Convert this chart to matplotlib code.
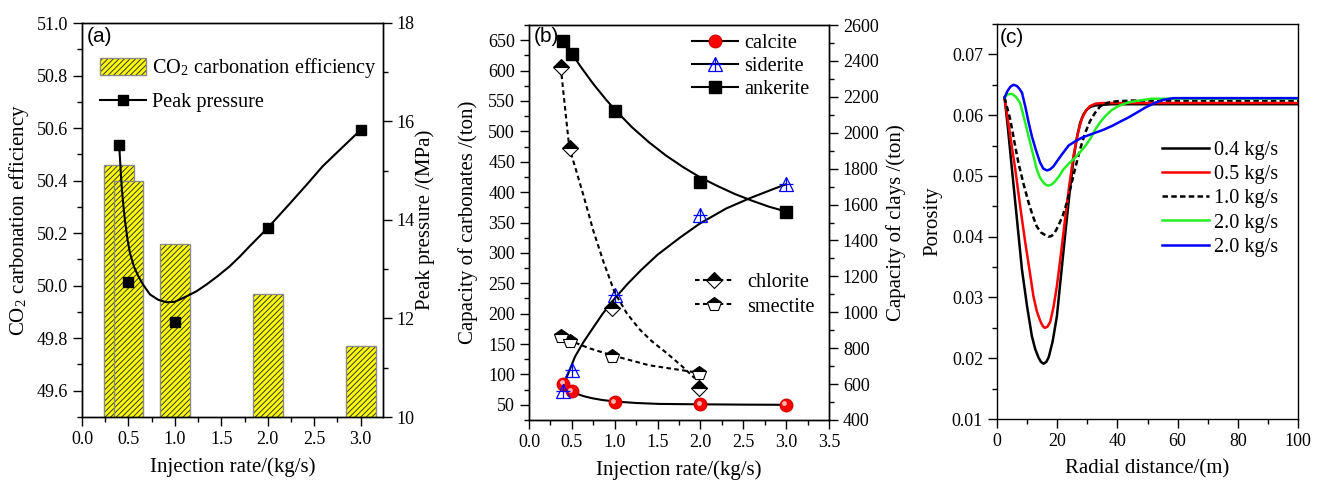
import matplotlib
matplotlib.use('Agg')
import matplotlib.pyplot as plt
import matplotlib.transforms as mtransforms
from matplotlib.lines import Line2D
from matplotlib.legend_handler import HandlerTuple
from matplotlib.ticker import MultipleLocator

# ---------------- data ----------------
# (a) carbonation efficiency bars and peak pressure
rate_a = [0.4, 0.5, 1.0, 2.0, 3.0]
eff = [50.46, 50.40, 50.16, 49.97, 49.77]
peak_p = [15.53, 12.74, 11.93, 13.84, 15.83]
# fitted pressure curve
fit_p_x = [0.40, 0.415, 0.427, 0.445, 0.462, 0.49, 0.516, 0.56, 0.606, 0.66, 0.731, 0.82,
           0.91, 1.0, 1.125, 1.23, 1.34, 1.46, 1.59, 1.7, 1.806, 2.0, 2.24, 2.42, 2.59, 2.8, 3.0]
fit_p_y = [15.53, 15.05, 14.68, 14.3, 14.0, 13.6, 13.33, 13.05, 12.86, 12.68, 12.49, 12.38,
           12.33, 12.34, 12.45, 12.55, 12.69, 12.86, 13.06, 13.26, 13.47, 13.84, 14.34, 14.72,
           15.09, 15.47, 15.83]

# (b) carbonates (left axis) and clays (right axis)
rate_b = [0.4, 0.5, 1.0, 2.0, 3.0]
calcite = [85, 72, 54, 51, 50]
siderite = [72, 108, 230, 362, 413]
ankerite = [648, 628, 534, 416, 367]
rate_clay = [0.37, 0.48, 0.97, 1.98]
chlorite = [2368, 1917, 1025, 580]
smectite = [868, 842, 758, 663]

calcite_fit_x = [0.40, 0.45, 0.536, 0.63, 0.73, 0.85, 1.0, 1.25, 1.51, 2.0, 2.5, 3.0]
calcite_fit_y = [76, 73, 69.5, 64.5, 61, 58, 55.5, 53, 51.5, 50.8, 50.3, 50]
siderite_fit_x = [0.39, 0.45, 0.536, 0.63, 0.73, 0.86, 1.0, 1.15, 1.31, 1.5, 1.76, 1.99,
                  2.3, 2.576, 2.85, 3.0]
siderite_fit_y = [74, 99, 129, 152, 173, 200, 225, 249, 272, 297, 325, 348, 373, 390, 405, 413]
ankerite_fit_x = [0.5, 0.6, 0.75, 0.9, 1.0, 1.2, 1.4, 1.6, 1.8, 2.0, 2.2, 2.4, 2.6, 2.8, 3.0]
ankerite_fit_y = [628, 607, 578, 552, 536, 507, 482, 460, 441, 424, 410, 397, 386, 376, 368]
chlorite_fit_x = [0.37, 0.42, 0.47, 0.55, 0.633, 0.75, 0.866, 1.0, 1.14, 1.29, 1.43, 1.6,
                  1.78, 1.935]
chlorite_fit_y = [2368, 2140, 1917, 1790, 1655, 1455, 1285, 1110, 995, 905, 840, 775, 702, 632]
smectite_fit_x = [0.37, 0.48, 0.7, 0.97, 1.4, 1.98]
smectite_fit_y = [868, 842, 800, 760, 705, 663]

# (c) porosity profiles
dist_04 = [2.5, 3.5, 4.97, 6.5, 8.29, 10, 11.6, 12.7, 13.8, 14.6, 15.45, 16.4, 17.2, 18.5,
           19.9, 21.2, 22.6, 24.0, 25.4, 26.5, 27.6, 28.7, 29.8, 31.2, 32.6, 35, 38.1, 100]
por_04 = [0.0629, 0.0585, 0.0511, 0.0435, 0.0346, 0.0285, 0.0236, 0.0215, 0.0201, 0.0194,
          0.0191, 0.0194, 0.0202, 0.0228, 0.0269, 0.0333, 0.0401, 0.0467, 0.0527, 0.0562,
          0.0587, 0.0601, 0.0609, 0.0614, 0.0616, 0.0617, 0.0618, 0.0618]
dist_05 = [2.5, 4.0, 6.07, 7.7, 9.4, 10.8, 12.1, 13.2, 14.3, 15.2, 15.9, 16.8, 17.7, 18.8,
           19.9, 21.2, 22.6, 24.0, 25.4, 26.8, 28.1, 29.5, 30.9, 32.8, 34.8, 100]
por_05 = [0.0629, 0.0579, 0.0511, 0.0450, 0.0390, 0.0345, 0.0302, 0.0278, 0.0262, 0.0253,
          0.0250, 0.0252, 0.0260, 0.0285, 0.0319, 0.0370, 0.0428, 0.0484, 0.0533, 0.0569,
          0.0593, 0.0607, 0.0615, 0.0619, 0.0620, 0.0620]
dist_10 = [2.5, 3.4, 4.4, 5.7, 7.1, 8.8, 10.5, 11.9, 13.2, 14.6, 15.9, 17.0, 18.1, 19.2,
           20.3, 21.8, 23.2, 24.6, 25.9, 27.6, 29.3, 30.9, 32.6, 34.2, 35.9, 38.0, 40.3, 45, 100]
por_10 = [0.0629, 0.0612, 0.0593, 0.0558, 0.0522, 0.0487, 0.0456, 0.0434, 0.0417, 0.0407,
          0.0403, 0.0400, 0.0401, 0.0407, 0.0417, 0.0434, 0.0456, 0.0484, 0.0511, 0.0544,
          0.0571, 0.0590, 0.0604, 0.0614, 0.0619, 0.0622, 0.0623, 0.0624, 0.0624]
dist_20g = [2.5, 3.5, 4.97, 6.3, 7.7, 9.0, 10.5, 11.9, 13.2, 14.3, 15.45, 16.3, 17.1, 18.2,
            19.3, 20.7, 22.1, 24.0, 25.95, 27.6, 29.3, 31.0, 32.6, 34.2, 35.9, 38.0, 40.3,
            43, 45.8, 48.5, 51.3, 56, 100]
por_20g = [0.0629, 0.0634, 0.0635, 0.0630, 0.0620, 0.0595, 0.0565, 0.0537, 0.0511, 0.0497,
           0.0489, 0.0485, 0.0484, 0.0486, 0.0491, 0.0500, 0.0511, 0.0521, 0.0530, 0.0539,
           0.0549, 0.0561, 0.0576, 0.0588, 0.0598, 0.0608, 0.0615, 0.0620, 0.0623, 0.0625,
           0.0627, 0.0627, 0.0627]
dist_20b = [2.5, 3.5, 4.5, 5.5, 6.6, 7.5, 8.3, 9.5, 10.5, 11.6, 12.9, 14.3, 15.4, 16.6, 17.7,
            18.8, 20.2, 21.5, 23.8, 26, 28.2, 30.4, 32.6, 35.4, 38.1, 40.8, 43.6, 46.4, 49.1,
            52.4, 55, 58.6, 100]
por_20b = [0.0629, 0.0640, 0.0647, 0.0650, 0.0648, 0.0643, 0.0637, 0.0612, 0.0588, 0.0565,
           0.0543, 0.0522, 0.0512, 0.0509, 0.0511, 0.0516, 0.0526, 0.0535, 0.0550, 0.0557,
           0.0563, 0.0567, 0.0571, 0.0576, 0.0582, 0.0589, 0.0596, 0.0604, 0.0612, 0.0620,
           0.0625, 0.0628, 0.0628]
labels_c = ['0.4 kg/s', '0.5 kg/s', '1.0 kg/s', '2.0 kg/s', '2.0 kg/s']

# ---------------- style ----------------
plt.rcParams['font.family'] = 'Liberation Serif'
plt.rcParams['mathtext.fontset'] = 'stix'
plt.rcParams['hatch.linewidth'] = 0.7
plt.rcParams['axes.linewidth'] = 1.0

TICK = 13
LAB = 15
LEG = 14.6


def style_ticks(ax):
    ax.tick_params(which='both', direction='out', labelsize=TICK, width=1)
    ax.tick_params(which='major', length=6.5)
    ax.tick_params(which='minor', length=3.5)


fig = plt.figure(figsize=(13.23, 4.84), dpi=100)
axa = fig.add_axes([82 / 1323, 67 / 484, 301 / 1323, 394 / 484])
axb = fig.add_axes([529 / 1323, 64 / 484, 300 / 1323, 395 / 484])
axc = fig.add_axes([997 / 1323, 65 / 484, 301 / 1323, 395 / 484])

# ---------------- (a) ----------------
for x, h in zip(rate_a, eff):
    hb = axa.bar(x, h, width=0.32, color='#ffff00', edgecolor='#333333', linewidth=0,
                 hatch='//////')
    ob = axa.bar(x, h, width=0.32, fill=False, edgecolor='#8a8a8a', linewidth=1)
axa.set_xlim(0, 3.24)
axa.set_ylim(49.5, 51.0)
axa.xaxis.set_major_locator(MultipleLocator(0.5))
axa.xaxis.set_minor_locator(MultipleLocator(0.25))
axa.yaxis.set_major_locator(MultipleLocator(0.2))
axa.yaxis.set_minor_locator(MultipleLocator(0.1))
axa.yaxis.set_major_formatter(plt.FormatStrFormatter('%.1f'))
axa.xaxis.set_major_formatter(plt.FormatStrFormatter('%.1f'))
style_ticks(axa)
axa.set_xlabel('Injection rate/(kg/s)', fontsize=LAB, labelpad=7)
axa.set_ylabel(r'CO$_\mathregular{2}$ carbonation efficiency', fontsize=LAB, labelpad=4)

axa2 = axa.twinx()
axa2.plot(fit_p_x, fit_p_y, color='k', lw=1.5)
axa2.plot(rate_a, peak_p, ls='none', marker='s', color='k', ms=7)
axa2.set_ylim(10, 18)
axa2.yaxis.set_major_locator(MultipleLocator(2))
axa2.yaxis.set_minor_locator(MultipleLocator(1))
style_ticks(axa2)
axa2.set_ylabel('Peak pressure /(MPa)', fontsize=LAB, labelpad=0)
axa.text(0.017, 0.99, '(a)', transform=axa.transAxes, ha='left', va='top',
         family='Liberation Sans', fontsize=15)

h_p = Line2D([], [], color='k', marker='s', ms=7, lw=1.5)
axa2.legend([(hb, ob), h_p],
            [r'CO$_\mathregular{2}$ carbonation efficiency', 'Peak pressure'],
            handler_map={tuple: HandlerTuple(ndivide=1)},
            loc='upper left', bbox_to_anchor=(0.06, 0.915), borderpad=0, borderaxespad=0,
            frameon=False, fontsize=LEG, handlelength=2.25, handleheight=0.95,
            handletextpad=0.3, labelspacing=0.55)

# ---------------- (b) ----------------
axb.plot(calcite_fit_x, calcite_fit_y, color='k', lw=1.5)
axb.plot(siderite_fit_x, siderite_fit_y, color='k', lw=1.5)
axb.plot(ankerite_fit_x, ankerite_fit_y, color='k', lw=1.5)
axb.plot(rate_b, calcite, ls='none', marker='o', ms=9, mfc='#ff0000', mec='#d80000')
shine = mtransforms.offset_copy(axb.transData, fig=fig, x=-1.2, y=1.2, units='points')
axb.plot(rate_b, calcite, ls='none', marker='o', ms=3.5, mfc='#ffb3b3', mec='none',
         transform=shine)
axb.plot(rate_b, siderite, ls='none', marker='^', ms=10, mfc='none', mec='#0000ff', mew=0.9)
axb.plot(rate_b, siderite, ls='none', marker='+', ms=10, mec='#0000ff', mew=0.9)
axb.plot(rate_b, ankerite, ls='none', marker='s', ms=9, color='k')
axb.set_xlim(0, 3.5)
axb.set_ylim(25, 675)
axb.xaxis.set_major_locator(MultipleLocator(0.5))
axb.xaxis.set_minor_locator(MultipleLocator(0.25))
axb.yaxis.set_major_locator(MultipleLocator(50))
axb.yaxis.set_minor_locator(MultipleLocator(25))
axb.xaxis.set_major_formatter(plt.FormatStrFormatter('%.1f'))
style_ticks(axb)
axb.set_xlabel('Injection rate/(kg/s)', fontsize=LAB, labelpad=7)
axb.set_ylabel('Capacity of carbonates /(ton)', fontsize=LAB, labelpad=7)

axb2 = axb.twinx()
axb2.plot(chlorite_fit_x, chlorite_fit_y, color='k', lw=1.5, dashes=(2.2, 1.6))
axb2.plot(smectite_fit_x, smectite_fit_y, color='k', lw=1.5, dashes=(2.2, 1.6))
axb2.plot(rate_clay, chlorite, ls='none', marker='D', ms=8.5, fillstyle='top', mfc='k',
          markerfacecoloralt='w', mec='k', mew=0.8)
axb2.plot(rate_clay, smectite, ls='none', marker='p', ms=10.5, fillstyle='top', mfc='k',
          markerfacecoloralt='w', mec='k', mew=0.8)
axb2.set_ylim(400, 2600)
axb2.yaxis.set_major_locator(MultipleLocator(200))
axb2.yaxis.set_minor_locator(MultipleLocator(100))
style_ticks(axb2)
axb2.set_ylabel('Capacity of clays /(ton)', fontsize=LAB, labelpad=5)
axb.text(0.017, 0.995, '(b)', transform=axb.transAxes, ha='left', va='top',
         family='Liberation Sans', fontsize=15)

h_cal = Line2D([], [], color='k', lw=1.5, marker='o', ms=9, mfc='#ff0000', mec='#d80000')
h_sid1 = Line2D([], [], color='k', lw=1.5, marker='^', ms=10, mfc='none', mec='#0000ff',
                mew=0.9)
h_sid2 = Line2D([], [], ls='none', marker='+', ms=10, mec='#0000ff', mew=0.9)
h_ank = Line2D([], [], color='k', lw=1.5, marker='s', ms=9)
leg1 = axb2.legend([h_cal, (h_sid1, h_sid2), h_ank], ['calcite', 'siderite', 'ankerite'],
                   handler_map={tuple: HandlerTuple(ndivide=1)},
                   loc='upper left', bbox_to_anchor=(0.542, 0.978), borderpad=0,
                   borderaxespad=0, frameon=False, fontsize=LEG, handlelength=2.3,
                   handletextpad=0.3, labelspacing=0.2)
axb2.add_artist(leg1)
h_chl = Line2D([], [], color='k', lw=1.5, dashes=(2.2, 1.6), marker='D', ms=8.5,
               fillstyle='top', mfc='k', markerfacecoloralt='w', mec='k', mew=0.8)
h_sme = Line2D([], [], color='k', lw=1.5, dashes=(2.2, 1.6), marker='p', ms=10.5,
               fillstyle='top', mfc='k', markerfacecoloralt='w', mec='k', mew=0.8)
axb2.legend([h_chl, h_sme], ['chlorite', 'smectite'],
            loc='upper left', bbox_to_anchor=(0.553, 0.372), borderpad=0, borderaxespad=0,
            frameon=False, fontsize=LEG, handlelength=1.9, handletextpad=0.7,
            labelspacing=0.25)

# ---------------- (c) ----------------
axc.plot(dist_04, por_04, color='k', lw=1.8, label=labels_c[0])
axc.plot(dist_05, por_05, color='#ff0000', lw=1.8, label=labels_c[1])
axc.plot(dist_10, por_10, color='k', lw=1.8, dashes=(2.2, 1.3), label=labels_c[2])
axc.plot(dist_20g, por_20g, color='#22ee22', lw=1.8, label=labels_c[3])
axc.plot(dist_20b, por_20b, color='#0000ff', lw=1.8, label=labels_c[4])
axc.set_xlim(0, 100)
axc.set_ylim(0.01, 0.075)
axc.xaxis.set_major_locator(MultipleLocator(20))
axc.xaxis.set_minor_locator(MultipleLocator(10))
axc.yaxis.set_major_locator(MultipleLocator(0.01))
axc.yaxis.set_minor_locator(MultipleLocator(0.005))
axc.yaxis.set_major_formatter(plt.FormatStrFormatter('%.2f'))
style_ticks(axc)
axc.set_xlabel('Radial distance/(m)', fontsize=LAB, labelpad=7)
axc.set_ylabel('Porosity', fontsize=LAB, labelpad=7)
axc.text(0.008, 0.99, '(c)', transform=axc.transAxes, ha='left', va='top',
         family='Liberation Sans', fontsize=15)
axc.legend(loc='upper left', bbox_to_anchor=(0.547, 0.705), borderpad=0, borderaxespad=0,
           frameon=False, fontsize=LEG, handlelength=2.35, handletextpad=0.25,
           labelspacing=0.25)

fig.savefig('out.png', dpi=100)
